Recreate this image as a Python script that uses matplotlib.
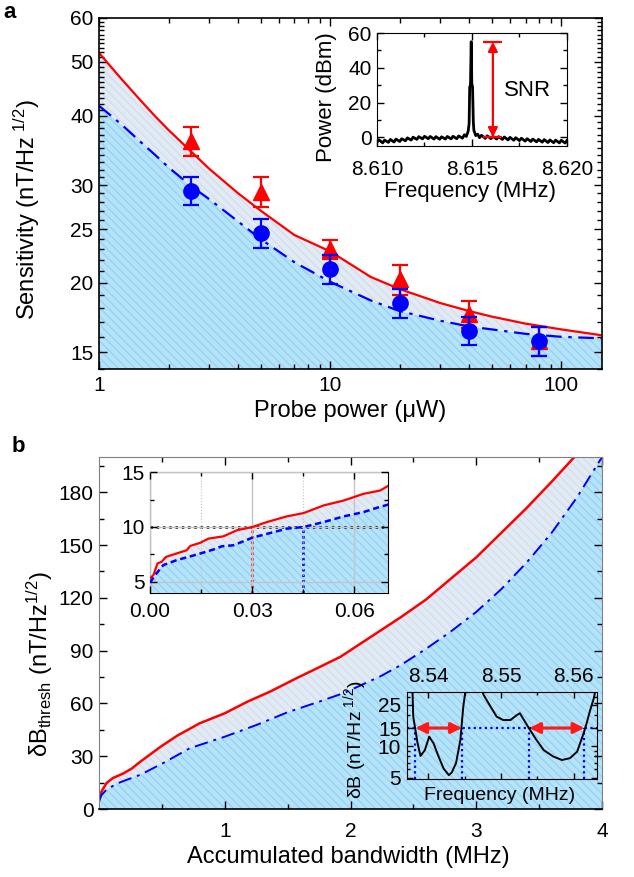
import matplotlib
matplotlib.use("Agg")
import matplotlib.pyplot as plt
from matplotlib.ticker import NullFormatter

plt.rcParams['font.family'] = ['Liberation Sans', 'DejaVu Sans']
plt.rcParams['mathtext.fontset'] = 'custom'
plt.rcParams['mathtext.rm'] = 'Liberation Sans'
plt.rcParams['mathtext.it'] = 'Liberation Sans:italic'
plt.rcParams['mathtext.bf'] = 'Liberation Sans:bold'
plt.rcParams['hatch.linewidth'] = 0.9

# ---- panel a: sensitivity vs probe power ----
power = [2.5, 5, 10, 20, 40, 80]
sens_red = [36.0, 29.2, 23.0, 20.3, 17.6, 15.7]
err_red = [2.2, 1.8, 0.9, 1.25, 1.0, 0.95]
sens_blue = [29.3, 24.6, 21.2, 18.4, 16.4, 15.7]
err_blue = [1.7, 1.5, 1.25, 1.1, 0.95, 0.95]

fit_power = [1, 1.25, 1.5, 1.75, 2, 2.5, 3, 4, 5, 7, 10, 15, 20, 30, 40, 50,
             70, 100, 150]
fit_red = [51.9, 46.6, 42.8, 39.9, 37.7, 34.5, 32.1, 29.0, 27.0, 24.4, 22.8,
           20.5, 19.5, 18.4, 17.8, 17.4, 16.9, 16.5, 16.1]
fit_blue = [41.7, 38.6, 36.0, 34.0, 32.3, 29.9, 28.3, 25.8, 24.0, 21.8, 20.1,
            18.6, 17.8, 17.1, 16.7, 16.5, 16.2, 16.0, 15.9]

# inset a: spectrum
spec_freq = [8.6100, 8.6101, 8.6103, 8.6104, 8.6106, 8.6107, 8.6109, 8.6110,
             8.6112, 8.6113, 8.6115, 8.6116, 8.6118, 8.6119, 8.6121, 8.6122,
             8.6124, 8.6125, 8.6127, 8.6128, 8.6130, 8.6131, 8.6133, 8.6134,
             8.6136, 8.6137, 8.6139, 8.6140, 8.6142, 8.6143, 8.6145, 8.6146,
             8.6147, 8.6148, 8.61485, 8.61488, 8.61492, 8.61496, 8.61499,
             8.61503, 8.61507, 8.6151, 8.6152, 8.6153, 8.6154, 8.6155, 8.6157,
             8.6158, 8.6160, 8.6161, 8.6163, 8.6164, 8.6166, 8.6167, 8.6169,
             8.6170, 8.6172, 8.6173, 8.6175, 8.6176, 8.6178, 8.6179, 8.6181,
             8.6182, 8.6184, 8.6185, 8.6187, 8.6188, 8.6190, 8.6191, 8.6193,
             8.6194, 8.6196, 8.6197, 8.6199, 8.6200]
spec_power = [-2.8, -1.4, -3.2, -1.6, -2.9, -1.2, -2.7, -1.0,
              -2.4, -0.8, -2.0, -0.3, -1.6, 0.1, -1.2, 0.4,
              -0.9, 0.6, -0.8, 0.5, -1.0, 0.4, -1.1, 0.3,
              -1.0, 0.5, -0.9, 0.6, -0.8, 0.8, -0.5, 1.5,
              0.5, 3.5, 8.0, 29.0, 30.0, 55.0, 31.0,
              29.0, 9.0, 4.0, 1.0, 1.8, -0.2, 1.2, -0.6,
              0.9, -0.8, 0.6, -1.0, 0.4, -1.2, 0.2, -1.5,
              0.0, -1.7, -0.2, -1.9, -0.5, -2.2, -0.8, -2.4,
              -1.0, -2.6, -1.2, -2.8, -1.3, -3.0, -1.5, -3.1,
              -1.6, -3.2, -1.7, -3.3, -1.8]
snr_freq = 8.6161
snr_low, snr_high = 0.0, 55.0

# ---- panel b: threshold vs accumulated bandwidth ----
bw_red = [0, 0.02, 0.06, 0.11, 0.19, 0.26, 0.33, 0.49, 0.62, 0.80, 1.00,
          1.18, 1.36, 1.57, 1.76, 1.92, 2.08, 2.40, 2.60, 2.80, 3.00, 3.20,
          3.40, 3.60, 3.78]
thr_red = [6.5, 10.0, 14.8, 17.6, 20.1, 23.0, 27.0, 35.4, 41.6, 48.7, 54.4,
           61.0, 66.7, 74.3, 80.9, 86.5, 94.0, 109.0, 119.0, 131.0, 143.0,
           157.0, 171.0, 186.0, 200.0]
bw_blue = [0, 0.02, 0.06, 0.14, 0.22, 0.33, 0.52, 0.72, 1.0, 1.25, 1.5, 1.75,
           1.95, 2.24, 2.4, 2.6, 2.8, 3.0, 3.2, 3.4, 3.6, 3.8, 4.0]
thr_blue = [4.3, 8.0, 11.0, 14.4, 16.6, 19.5, 26.5, 34.5, 41.1, 47.7, 55.0,
            61.0, 66.0, 75.5, 81.8, 91.0, 101.0, 112.0, 125.0, 140.0, 157.0,
            177.0, 200.0]

# inset b1: zoom on the first 0.07 MHz
zb_red = [0.0, 0.001, 0.0022, 0.0034, 0.0047, 0.0078, 0.0108, 0.0118, 0.0147,
          0.0172, 0.0216, 0.0255, 0.0301, 0.0343, 0.0402, 0.0451, 0.051,
          0.0569, 0.0627, 0.0676, 0.0701]
zt_red = [5.3, 5.61, 6.67, 6.82, 7.27, 7.58, 7.88, 8.27, 8.55, 8.94, 9.15, 9.7,
          10.0, 10.45, 10.97, 11.27, 11.97, 12.42, 13.03, 13.33, 13.79]
zb_blue = [0.0, 0.0015, 0.0039, 0.0078, 0.0137, 0.0186, 0.0211, 0.0245, 0.0301,
           0.0353, 0.0402, 0.0451, 0.051, 0.0569, 0.0627, 0.0667, 0.0701]
zt_blue = [4.91, 5.61, 6.52, 6.97, 7.48, 7.94, 8.24, 8.33, 9.03, 9.45, 9.85,
           10.0, 10.45, 10.97, 11.36, 11.76, 12.06]
thr_level = 10
bw_at_level = [0.030, 0.045]

# inset b2: sensitivity spectrum
db_freq = [8.5378, 8.5379, 8.5382, 8.5385, 8.5389, 8.5395, 8.5401, 8.5407,
           8.5414, 8.5421, 8.5428, 8.5432, 8.5438, 8.5444, 8.5448, 8.5451,
           8.5474, 8.5476, 8.5480, 8.5487, 8.5494, 8.5503, 8.5513, 8.5522,
           8.5526, 8.5533, 8.5540, 8.5549, 8.5559, 8.5572, 8.5584, 8.5595,
           8.5605, 8.5614, 8.5618, 8.5623, 8.5628, 8.5630]
db_val = [34.0, 19.3, 14.4, 10.7, 8.1, 9.2, 12.4, 10.7,
          7.96, 6.1, 5.3, 5.6, 6.9, 11.5, 24.1, 34.0,
          34.0, 31.2, 28.0, 23.2, 19.3, 17.9, 17.9, 20.0,
          20.8, 17.3, 14.4, 11.5, 9.2, 8.0, 7.4, 7.7,
          8.9, 13.4, 16.6, 22.3, 29.0, 34.0]
db_level = 15
db_cross = [8.5382, 8.5446, 8.5539, 8.5615]

# colours
RED = '#ff0000'
BLUE = '#0000ff'
FILL_LOW = '#b4e3fa'
HATCH_LOW = '#96d3f2'
FILL_MID = '#dcedf9'
HATCH_MID = '#e6d6dc'
HATCH = '\\\\\\\\'

fig = plt.figure(figsize=(6.34, 8.77), dpi=100)


def style_ticks(ax, size=15, major=6, minor=3.5, pad=4):
    ax.tick_params(which='both', direction='in', top=True, right=True,
                   labelsize=size, width=1, pad=pad)
    ax.tick_params(which='major', length=major)
    ax.tick_params(which='minor', length=minor)


# ================= panel a =================
ax = fig.add_axes([0.1562, 0.5792, 0.7934, 0.4003])
ax.set_xscale('log')
ax.set_yscale('log')
ax.set_xlim(1, 150)
ax.set_ylim(14, 60)
y0 = ax.get_ylim()[0]
ax.fill_between(fit_power, y0, fit_blue, facecolor=FILL_LOW,
                edgecolor=HATCH_LOW, hatch=HATCH, lw=0, zorder=0.5)
ax.fill_between(fit_power, fit_blue, fit_red, facecolor=FILL_MID,
                edgecolor=HATCH_MID, hatch=HATCH, lw=0, zorder=0.5)
ax.plot(fit_power, fit_red, color=RED, lw=1.6, zorder=2)
ax.plot(fit_power, fit_blue, color=BLUE, lw=1.6, ls=(0, (7, 3, 1.5, 3)), zorder=2)
ax.errorbar(power, sens_red, yerr=err_red, fmt='^', color=RED, ms=11,
            capsize=6, elinewidth=1.6, capthick=1.6, zorder=3)
ax.errorbar(power, sens_blue, yerr=err_blue, fmt='o', color=BLUE, ms=11,
            capsize=6, elinewidth=1.6, capthick=1.6, zorder=4)
ax.set_xticks([1, 10, 100], ['1', '10', '100'])
ax.set_xticks([2, 3, 4, 5, 6, 7, 8, 9, 20, 30, 40, 50, 60, 70, 80, 90], minor=True)
ax.set_yticks([15, 20, 25, 30, 40, 50, 60], ['15', '20', '25', '30', '40', '50', '60'])
ax.set_yticks([v for v in range(14, 61) if v not in (15, 20, 25, 30, 40, 50, 60)],
              minor=True)
ax.xaxis.set_minor_formatter(NullFormatter())
ax.yaxis.set_minor_formatter(NullFormatter())
style_ticks(ax)
ax.tick_params(axis='x', pad=5)
ax.set_xlabel('Probe power (μW)', fontsize=17)
ax.xaxis.set_label_coords(0.499, -0.088)
ax.set_ylabel('Sensitivity (nT/Hz$^{\\ 1/2}$)', fontsize=17)
ax.yaxis.set_label_coords(-0.113, 0.453)
for s in ax.spines.values():
    s.set_linewidth(1.2)

# inset a
axi = fig.add_axes([0.5946, 0.8335, 0.2997, 0.1288])
axi.set_facecolor('white')
axi.plot(spec_freq, spec_power, color='black', lw=2.0)
axi.annotate('', xy=(snr_freq, snr_high), xytext=(snr_freq, snr_low),
             arrowprops=dict(arrowstyle='<|-|>', color=RED, lw=1.6,
                             mutation_scale=14, shrinkA=0, shrinkB=0))
axi.hlines([snr_low, snr_high], snr_freq - 0.0005, snr_freq + 0.0005,
           color=RED, lw=1.6)
axi.text(snr_freq + 0.0006, 27, 'SNR', fontsize=16, va='center', ha='left')
axi.set_xlim(8.610, 8.620)
axi.set_ylim(-5, 60)
axi.set_xticks([8.610, 8.615, 8.620], ['8.610', '8.615', '8.620'])
axi.set_xticks([8.6125, 8.6175], minor=True)
axi.set_yticks([0, 20, 40, 60], ['0', '20', '40', '60'])
axi.set_yticks([10, 30, 50], minor=True)
style_ticks(axi, size=15, major=5, minor=3)
axi.tick_params(axis='x', pad=10)
axi.set_xlabel('Frequency (MHz)', fontsize=16)
axi.xaxis.set_label_coords(0.49, -0.31)
axi.set_ylabel('Power (dBm)', fontsize=16)
axi.yaxis.set_label_coords(-0.21, 0.436)

fig.text(0.005, 0.998, 'a', fontsize=16, fontweight='bold', va='top', ha='left')
fig.text(0.018, 0.503, 'b', fontsize=16, fontweight='bold', va='top', ha='left')

# ================= panel b =================
bx = fig.add_axes([0.1562, 0.0775, 0.7934, 0.4014])
bx.set_xlim(0, 4)
bx.set_ylim(0, 200)
ytop = bx.get_ylim()[1]
bx.fill_between(bw_blue, thr_blue, ytop, facecolor=FILL_MID,
                edgecolor=HATCH_MID, hatch=HATCH, lw=0, zorder=0.4)
bx.fill_between(bw_red, thr_red, ytop, color='white', lw=0, zorder=0.45)
bx.fill_between(bw_blue, 0, thr_blue, facecolor=FILL_LOW,
                edgecolor=HATCH_LOW, hatch=HATCH, lw=0, zorder=0.5)
bx.plot(bw_red, thr_red, color=RED, lw=1.8, zorder=2)
bx.plot(bw_blue, thr_blue, color=BLUE, lw=1.4, ls=(0, (7, 3, 1.5, 3)), zorder=2)
bx.set_xticks([1, 2, 3, 4], ['1', '2', '3', '4'])
bx.set_xticks([0.5, 1.5, 2.5, 3.5], minor=True)
bx.set_yticks([0, 30, 60, 90, 120, 150, 180])
bx.set_yticks([15, 45, 75, 105, 135, 165, 195], minor=True)
style_ticks(bx)
bx.tick_params(axis='x', pad=9)
bx.set_xlabel('Accumulated bandwidth (MHz)', fontsize=17)
bx.xaxis.set_label_coords(0.495, -0.105)
bx.set_ylabel('δB$_{\\rm thresh}$ (nT/Hz$^{1/2}$)', fontsize=17)
bx.yaxis.set_label_coords(-0.087, 0.41)
for side in ('left', 'top', 'right'):
    bx.spines[side].set_color('#808080')
bx.spines['bottom'].set_linewidth(1.2)

# inset b1
b1 = fig.add_axes([0.2366, 0.3242, 0.3759, 0.1373])
b1.set_facecolor('white')
b1.set_xlim(0, 0.07)
b1.set_ylim(4, 15)
y_lo, y_hi = b1.get_ylim()
b1.fill_between(zb_blue, zt_blue, y_hi, facecolor=FILL_MID,
                edgecolor=HATCH_MID, hatch=HATCH, lw=0, zorder=0.4)
b1.fill_between(zb_red, zt_red, y_hi, color='white', lw=0, zorder=0.45)
b1.fill_between(zb_blue, y_lo, zt_blue, facecolor=FILL_LOW,
                edgecolor=HATCH_LOW, hatch=HATCH, lw=0, zorder=0.5)
b1.set_xticks([0, 0.03, 0.06], ['0.00', '0.03', '0.06'])
b1.set_xticks([0.015, 0.045], minor=True)
b1.set_yticks([5, 10, 15], ['5', '10', '15'])
b1.set_yticks([7.5, 12.5], minor=True)
b1.grid(which='major', color='#c4c4c4', lw=1.0, zorder=1)
b1.grid(which='minor', axis='x', color='#c4c4c4', lw=0.8, ls=':', zorder=1)
b1.set_axisbelow(False)
b1.axhline(thr_level, color='black', lw=1.8, ls=(0, (1, 1.5)), zorder=2)
b1.vlines(bw_at_level[0], y_lo, thr_level, color=RED, lw=1.8, ls=(0, (1, 1.2)), zorder=2)
b1.vlines(bw_at_level[1], y_lo, thr_level, color=BLUE, lw=1.8, ls=(0, (1, 1.2)), zorder=2)
b1.plot(zb_red, zt_red, color=RED, lw=1.6, zorder=3)
b1.plot(zb_blue, zt_blue, color=BLUE, lw=1.8, ls=(0, (2.5, 1.5)), zorder=3)
style_ticks(b1, size=15, major=5, minor=3)
b1.tick_params(axis='x', pad=7)

# inset b2
b2 = fig.add_axes([0.6415, 0.1114, 0.2997, 0.0999])
b2.set_facecolor('none')
b2.set_yscale('log')
b2.set_xlim(8.537, 8.5632)
b2.set_ylim(4.83, 33.5)
yb_lo = b2.get_ylim()[0]
b2.plot(db_freq, db_val, color='black', lw=1.4, zorder=2)
b2.axhline(db_level, color=BLUE, lw=1.6, ls=(0, (1, 1.5)), zorder=1)
b2.vlines(db_cross, yb_lo, db_level, color=BLUE, lw=1.6, ls=(0, (1, 1.5)), zorder=1)
for i in (0, 2):
    b2.annotate('', xy=(db_cross[i + 1], db_level), xytext=(db_cross[i], db_level),
                arrowprops=dict(arrowstyle='<|-|>', color='#ff1a1a', lw=2.2,
                                mutation_scale=16, shrinkA=0, shrinkB=0), zorder=3)
b2.set_xticks([8.54, 8.55, 8.56], ['8.54', '8.55', '8.56'])
b2.set_xticks([8.545, 8.555], minor=True)
b2.set_yticks([5, 10, 15, 25], ['5', '10', '15', '25'])
b2.set_yticks([6, 7, 8, 9, 20, 30], minor=True)
b2.yaxis.set_minor_formatter(NullFormatter())
style_ticks(b2, size=15, major=4, minor=2.5)
b2.tick_params(labeltop=True, labelbottom=False)
b2.set_xlabel('Frequency (MHz)', fontsize=14)
b2.xaxis.set_label_coords(0.49, -0.088)
b2.set_ylabel('δB (nT/Hz$^{\\ 1/2}$)', fontsize=14)
b2.yaxis.set_label_coords(-0.2, 0.45)

fig.savefig('out.png', dpi=100)
